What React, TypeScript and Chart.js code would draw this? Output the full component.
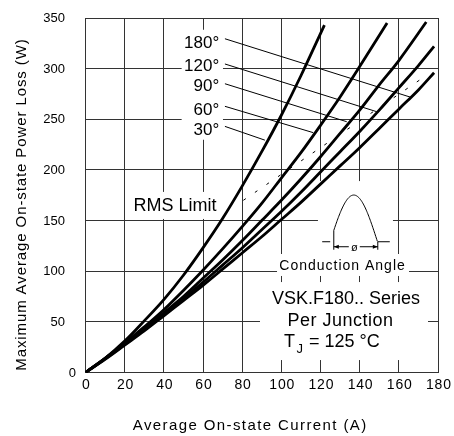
import { useEffect, useRef } from 'react';
import { Chart, registerables } from 'chart.js';

Chart.register(...registerables);

const FONT = '"Liberation Sans", Arial, Helvetica, sans-serif';
const GRID = '#333333';

// ---- data ----
const xTickValues = [0, 20, 40, 60, 80, 100, 120, 140, 160, 180];
const yTickValues = [0, 50, 100, 150, 200, 250, 300, 350];

const current30 = [0, 10, 20, 30, 40, 50, 60, 70, 80, 90, 100, 110, 122];
const loss30 = [0, 14, 31, 51, 72, 96, 123, 152, 184, 218, 254, 293, 343];

const current60 = [0, 10, 20, 30, 40, 50, 60, 70, 80, 90, 100, 110, 120, 130, 140, 154];
const loss60 = [0, 14, 29, 45, 62, 81, 101, 122, 144, 167, 192, 217, 244, 272, 302, 345];

const current90 = [0, 10, 20, 30, 40, 50, 60, 70, 80, 90, 100, 110, 120, 130, 140, 150, 160, 174];
const loss90 = [0, 14, 28, 43, 59, 75, 93, 111, 130, 150, 170, 191, 213, 236, 259, 284, 308, 346];

const current120 = [0, 10, 20, 30, 40, 50, 60, 70, 80, 90, 100, 110, 120, 130, 140, 150, 160, 170, 178];
const loss120 = [0, 13.5, 27.5, 42, 57, 73, 89, 106, 123, 141, 159, 178, 198, 218, 238, 259, 281, 303, 322];

const current180 = [0, 10, 20, 30, 40, 50, 60, 70, 80, 90, 100, 110, 120, 130, 140, 150, 160, 170, 178];
const loss180 = [0, 13, 27, 41, 56, 71, 86, 102, 118, 134, 151, 168, 186, 204, 222, 241, 260, 279, 296];

const rmsCurrent = [80.6, 170.8];
const rmsLoss = [170, 289];

const angleLabels = ['180°', '120°', '90°', '60°', '30°'];

// ---- annotation placement (data units) ----
const angleLabelA = 68.3;
const angleLabelW = [320.4, 298, 277.6, 254.5, 234.2];
const leaderFrom = [
  [71.2, 329.5],
  [71.2, 304.6],
  [71.2, 285.1],
  [71.2, 262.8],
  [71.2, 243],
];
const leaderTo = [
  [165.7, 272],
  [148.7, 257.5],
  [133.4, 247.6],
  [116.3, 236.8],
  [91.6, 229.4],
];
// [a0, a1, w0, w1]
const whiteBoxes = [
  [49.1, 70.2, 229.8, 338.4],
  [21.7, 69.7, 151.6, 178.3],
  [118.7, 157, 116.8, 189],
  [97.8, 165.2, 95.3, 117],
  [89.1, 174.9, 12.3, 89.3],
];
const insetAnchor = [137, 129.1];

function pts(xs: number[], ys: number[]) {
  return xs.map((x, i) => ({ x, y: ys[i] }));
}

function txt(
  ctx: CanvasRenderingContext2D,
  s: string,
  x: number,
  y: number,
  size: number,
  align: CanvasTextAlign,
  spacing = 0,
  baseline: CanvasTextBaseline = 'alphabetic'
) {
  ctx.font = `${size}px ${FONT}`;
  ctx.textAlign = align;
  ctx.textBaseline = baseline;
  (ctx as any).letterSpacing = `${spacing}px`;
  ctx.fillStyle = '#000';
  // compensate trailing letter spacing when centering/right-aligning
  let dx = 0;
  if (spacing && align === 'center') dx = spacing / 2;
  if (spacing && align === 'right') dx = spacing;
  ctx.fillText(s, x + dx, y);
  (ctx as any).letterSpacing = '0px';
}

const annotPlugin = {
  id: 'annot',
  beforeDatasetsDraw(chart: any) {
    const { ctx } = chart;
    const xs = chart.scales.x;
    const ys = chart.scales.y;
    ctx.save();
    ctx.fillStyle = '#fff';
    for (const b of whiteBoxes) {
      const x0 = xs.getPixelForValue(b[0]);
      const x1 = xs.getPixelForValue(b[1]);
      const y0 = ys.getPixelForValue(b[3]);
      const y1 = ys.getPixelForValue(b[2]);
      ctx.fillRect(x0, y0, x1 - x0, y1 - y0);
    }
    // tick labels, placed from the scales
    ys.ticks.forEach((t: any) => {
      const right = t.value === 0 ? xs.left - 9.5 : xs.left - 20.5;
      txt(ctx, String(t.value), right, ys.getPixelForValue(t.value) + 0.5, 13, 'right', 0, 'middle');
    });
    xs.ticks.forEach((t: any) => {
      txt(ctx, String(t.value), xs.getPixelForValue(t.value) + 0.5, ys.bottom + 16, 14, 'center', 0.8);
    });
    ctx.restore();
  },
  afterDatasetsDraw(chart: any) {
    const { ctx } = chart;
    const xs = chart.scales.x;
    const ys = chart.scales.y;
    const px = (a: number) => xs.getPixelForValue(a);
    const py = (w: number) => ys.getPixelForValue(w);
    ctx.save();

    angleLabels.forEach((l, i) => {
      txt(ctx, l, px(angleLabelA), py(angleLabelW[i]), 17, 'right');
      ctx.beginPath();
      ctx.strokeStyle = '#000';
      ctx.lineWidth = 1;
      ctx.moveTo(px(leaderFrom[i][0]), py(leaderFrom[i][1]));
      ctx.lineTo(px(leaderTo[i][0]), py(leaderTo[i][1]));
      ctx.stroke();
    });

    txt(ctx, 'RMS Limit', px(45.7), py(159.2), 18, 'center');

    // inset waveform
    const cx = px(insetAnchor[0]);
    const by = py(insetAnchor[1]);
    ctx.strokeStyle = '#000';
    ctx.lineWidth = 1;
    ctx.beginPath();
    ctx.moveTo(cx - 31.6, by);
    ctx.lineTo(cx - 23.6, by);
    ctx.moveTo(cx + 23.7, by);
    ctx.lineTo(cx + 36, by);
    ctx.stroke();
    const hw = 23.7;
    const hh = 46.7;
    const xStart = cx - 20;
    ctx.beginPath();
    ctx.moveTo(xStart, by + 8);
    for (let xx = xStart; xx <= cx + hw; xx += 0.5) {
      const th = ((xx - (cx - hw)) / (2 * hw)) * Math.PI;
      ctx.lineTo(xx, by - hh * Math.sin(th));
    }
    ctx.stroke();
    ctx.beginPath();
    ctx.moveTo(cx + 24, by);
    ctx.lineTo(cx + 24, by + 8);
    ctx.stroke();
    const ay = by + 5;
    ctx.beginPath();
    ctx.moveTo(xStart, ay);
    ctx.lineTo(cx - 5, ay);
    ctx.moveTo(cx + 6, ay);
    ctx.lineTo(cx + 24, ay);
    ctx.stroke();
    ctx.fillStyle = '#000';
    ctx.beginPath();
    ctx.moveTo(xStart, ay);
    ctx.lineTo(xStart + 5, ay - 2);
    ctx.lineTo(xStart + 5, ay + 2);
    ctx.closePath();
    ctx.fill();
    ctx.beginPath();
    ctx.moveTo(cx + 24, ay);
    ctx.lineTo(cx + 19, ay - 2);
    ctx.lineTo(cx + 19, ay + 2);
    ctx.closePath();
    ctx.fill();
    txt(ctx, 'ø', cx + 0.5, ay + 4, 11, 'center');

    txt(ctx, 'Conduction Angle', px(131), py(101.2), 14, 'center', 1);
    txt(ctx, 'VSK.F180.. Series', px(133), py(67.6), 18, 'center');
    txt(ctx, 'Per Junction', px(130.1), py(46.2), 18, 'center', 0.5);

    const tx = px(101.4);
    const ty = py(25.5);
    txt(ctx, 'T', tx, ty, 18, 'left');
    ctx.font = `18px ${FONT}`;
    const tw = ctx.measureText('T').width;
    txt(ctx, 'J', tx + tw + 1.5, ty + 6, 13, 'left');
    ctx.font = `13px ${FONT}`;
    const jw = ctx.measureText('J').width;
    txt(ctx, '= 125 °C', tx + tw + 1.5 + jw + 6, ty, 18, 'left');

    txt(ctx, 'Average On-state Current (A)', 249.5, 430, 15, 'center', 1.4);
    ctx.translate(26, 205);
    ctx.rotate(-Math.PI / 2);
    txt(ctx, 'Maximum Average On-state Power Loss (W)', 0, 0, 15, 'center', 0.9);
    ctx.restore();
  },
};

export default function App() {
  const ref = useRef<HTMLCanvasElement | null>(null);

  useEffect(() => {
    if (!ref.current) return;
    const curve = (data: any[]) => ({
      data,
      borderColor: '#000',
      borderWidth: 2.8,
      pointRadius: 0,
      tension: 0.35,
      fill: false,
    });
    const chart = new Chart(ref.current, {
      type: 'line',
      data: {
        datasets: [
          curve(pts(current30, loss30)),
          curve(pts(current60, loss60)),
          curve(pts(current90, loss90)),
          curve(pts(current120, loss120)),
          curve(pts(current180, loss180)),
          {
            data: pts(rmsCurrent, rmsLoss),
            borderColor: '#000',
            borderWidth: 1,
            borderDash: [3, 11],
            pointRadius: 0,
            fill: false,
          },
        ] as any,
      },
      options: {
        animation: false,
        responsive: false,
        devicePixelRatio: 1,
        layout: { padding: { top: 18, right: 16, left: 0, bottom: 0 } },
        plugins: { legend: { display: false }, tooltip: { enabled: false } },
        scales: {
          x: {
            type: 'linear',
            min: 0,
            max: 180,
            afterBuildTicks: (s: any) => {
              s.ticks = xTickValues.map((v) => ({ value: v }));
            },
            afterFit: (s: any) => {
              s.height = 63.5;
            },
            grid: { color: GRID, lineWidth: 1, drawTicks: false },
            border: { color: GRID, width: 1 },
            ticks: { display: false },
          },
          y: {
            type: 'linear',
            min: 0,
            max: 350,
            afterBuildTicks: (s: any) => {
              s.ticks = yTickValues.map((v) => ({ value: v }));
            },
            afterFit: (s: any) => {
              s.width = 85.5;
            },
            grid: { color: GRID, lineWidth: 1, drawTicks: false },
            border: { color: GRID, width: 1 },
            ticks: { display: false },
          },
        },
      } as any,
      plugins: [annotPlugin],
    });
    return () => chart.destroy();
  }, []);

  return (
    <div style={{ position: 'absolute', left: 0, top: 0, width: 454, height: 436, background: '#fff' }}>
      <canvas ref={ref} width={454} height={436} style={{ display: 'block', width: 454, height: 436 }} />
    </div>
  );
}
